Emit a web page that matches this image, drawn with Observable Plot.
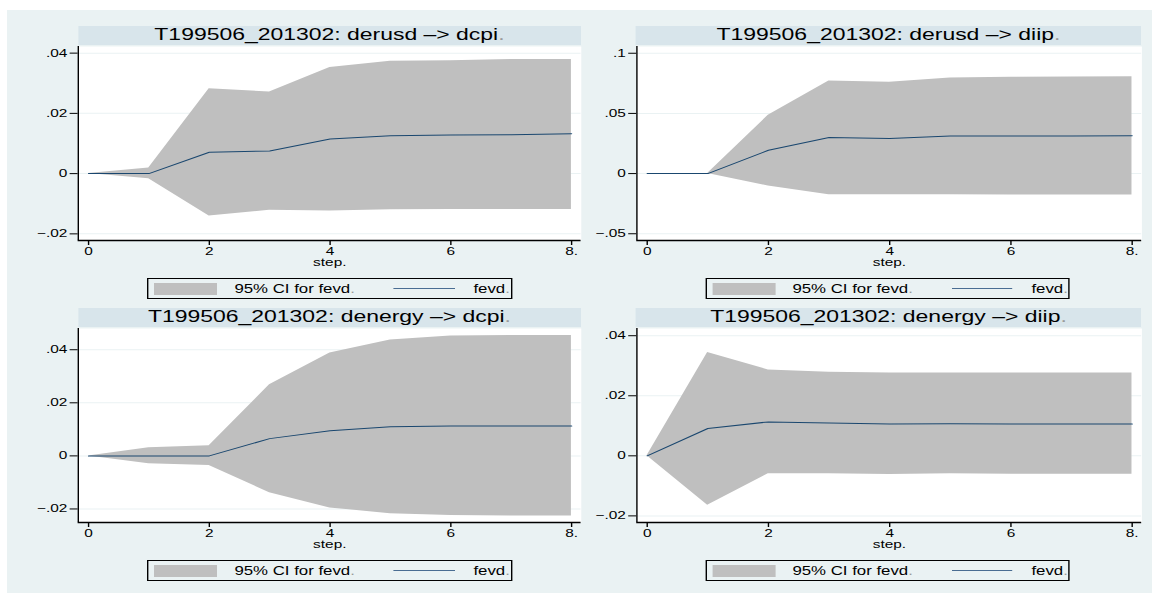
<!DOCTYPE html>
<html><head><meta charset="utf-8">
<script src="https://cdn.jsdelivr.net/npm/d3@7"></script>
<script src="https://cdn.jsdelivr.net/npm/@observablehq/plot@0.6"></script>
<style>
html,body{margin:0;padding:0;background:#fff;width:1152px;height:593px;overflow:hidden;font-family:"Liberation Sans",Arial,sans-serif;}
#stage{position:absolute;left:0;top:0;height:593px;transform-origin:0 0;}
</style></head><body><div id="stage"></div>
<script>
// ---- data ----
const steps = [0, 1, 2, 3, 4, 5, 6, 7, 8];
const xTicks = [0, 2, 4, 6, 8];
const xTickLabels = ["0", "2", "4", "6", "8."];
const titles = [
  "T199506_201302: derusd –> dcpi",
  "T199506_201302: derusd –> diip",
  "T199506_201302: denergy –> dcpi",
  "T199506_201302: denergy –> diip"
];
const legendLabels = ["95% CI for fevd", "fevd"];
const xLabel = "step.";

const fevd_derusd_dcpi = [0, 0, 0.0071, 0.0075, 0.0115, 0.0126, 0.0128, 0.0129, 0.0132];
const lo_derusd_dcpi   = [0, -0.0017, -0.0141, -0.0122, -0.0124, -0.0120, -0.0119, -0.0119, -0.0119];
const hi_derusd_dcpi   = [0, 0.0019, 0.0282, 0.0271, 0.0352, 0.0373, 0.0375, 0.0379, 0.0379];

const fevd_derusd_diip = [0, 0, 0.0194, 0.0299, 0.0291, 0.0312, 0.0312, 0.0313, 0.0315];
const lo_derusd_diip   = [0, 0, -0.0103, -0.0175, -0.0175, -0.0175, -0.0178, -0.0178, -0.0178];
const hi_derusd_diip   = [0, 0, 0.0484, 0.0769, 0.0758, 0.0794, 0.0800, 0.0803, 0.0805];

const fevd_denergy_dcpi = [0, 0, 0, 0.0065, 0.0095, 0.0110, 0.0113, 0.0113, 0.0113];
const lo_denergy_dcpi   = [0, -0.0030, -0.0036, -0.0139, -0.0196, -0.0218, -0.0225, -0.0227, -0.0227];
const hi_denergy_dcpi   = [0, 0.0031, 0.0038, 0.0268, 0.0388, 0.0437, 0.0452, 0.0454, 0.0454];

const fevd_denergy_diip = [0, 0.0091, 0.0113, 0.0109, 0.0106, 0.0107, 0.0106, 0.0106, 0.0106];
const lo_denergy_diip   = [0, -0.0165, -0.0060, -0.0060, -0.0062, -0.0060, -0.0061, -0.0061, -0.0061];
const hi_denergy_diip   = [0, 0.0344, 0.0286, 0.0278, 0.0276, 0.0276, 0.0276, 0.0276, 0.0276];

const yTicks_derusd_dcpi = [-0.02, 0, 0.02, 0.04];
const yLabels_derusd_dcpi = ["−.02", "0", ".02", ".04"];
const yTicks_derusd_diip = [-0.05, 0, 0.05, 0.1];
const yLabels_derusd_diip = ["−.05", "0", ".05", ".1"];
const yTicks_denergy_dcpi = [-0.02, 0, 0.02, 0.04];
const yLabels_denergy_dcpi = ["−.02", "0", ".02", ".04"];
const yTicks_denergy_diip = [-0.02, 0, 0.02, 0.04];
const yLabels_denergy_diip = ["−.02", "0", ".02", ".04"];

// ---- layout ----
const S = 1.4;              // horizontal stretch of the original rendering
const px = v => v / S;
const stage = document.getElementById("stage");
stage.style.width = px(1152) + "px";
stage.style.transform = `scaleX(${S})`;

const panels = [
  {title: titles[0], fevd: fevd_derusd_dcpi, lo: lo_derusd_dcpi, hi: hi_derusd_dcpi,
   yTicks: yTicks_derusd_dcpi, yLabels: yLabels_derusd_dcpi, yDomain: [-0.0222, 0.0422], L: 78, R: 581, T: 46},
  {title: titles[1], fevd: fevd_derusd_diip, lo: lo_derusd_diip, hi: hi_derusd_diip,
   yTicks: yTicks_derusd_diip, yLabels: yLabels_derusd_diip, yDomain: [-0.0556, 0.1056], L: 636, R: 1141, T: 46},
  {title: titles[2], fevd: fevd_denergy_dcpi, lo: lo_denergy_dcpi, hi: hi_denergy_dcpi,
   yTicks: yTicks_denergy_dcpi, yLabels: yLabels_denergy_dcpi, yDomain: [-0.0251, 0.0480], L: 78, R: 581, T: 328},
  {title: titles[3], fevd: fevd_denergy_diip, lo: lo_denergy_diip, hi: hi_denergy_diip,
   yTicks: yTicks_denergy_diip, yLabels: yLabels_denergy_diip, yDomain: [-0.0222, 0.0424], L: 636, R: 1141, T: 328}
];

function add(parent, css, html) {
  const e = document.createElement("div");
  e.style.cssText = "position:absolute;" + css;
  if (html != null) e.innerHTML = html;
  parent.appendChild(e);
  return e;
}
const dot = '<span style="color:#9a9a9a">.</span>';

add(stage, `left:${px(7)}px;top:10px;width:${px(1145)}px;height:583px;background:#EAF2F3;`);

const xDomain = [-0.17, 8.16];
panels.forEach(p => {
  const {L, R, T} = p;
  add(stage, `left:${px(L)}px;top:${T - 20}px;width:${px(R - L)}px;height:19px;background:#D8E5EB;text-align:center;font-size:16.4px;line-height:16px;color:#000;white-space:nowrap;`, p.title + dot);

  const data = steps.map((s, i) => ({step: s, fevd: p.fevd[i], lo: p.lo[i], hi: p.hi[i]}));
  const mL = 72, mT = 6, mB = 34, H = 194;
  const chart = Plot.plot({
    width: px(R - L + mL), height: mT + H + mB,
    marginLeft: px(mL), marginRight: 0, marginTop: mT, marginBottom: mB,
    x: {domain: xDomain, axis: null},
    y: {domain: p.yDomain, axis: null},
    style: {background: "transparent", fontFamily: "Liberation Sans, Arial, sans-serif", fontSize: "11px", color: "#000", overflow: "visible"},
    marks: [
      Plot.frame({fill: "#fff", stroke: null}),
      Plot.gridY(p.yTicks, {stroke: "#EAF2F3", strokeOpacity: 1}),
      Plot.areaY(data, {x: "step", y1: "lo", y2: "hi", fill: "#BFBFBF", fillOpacity: 1}),
      Plot.lineY(data, {x: "step", y: "fevd", stroke: "#1A476F", strokeWidth: 1}),
      Plot.ruleX([xDomain[0]], {stroke: "#000", strokeWidth: 1}),
      Plot.ruleY([p.yDomain[0]], {stroke: "#000", strokeWidth: 1.3}),
      Plot.axisY(p.yTicks, {tickFormat: d => p.yLabels[p.yTicks.indexOf(d)], tickSize: px(8), tickPadding: px(3), label: null, stroke: "#000"}),
      Plot.axisX(xTicks, {tickFormat: d => xTickLabels[xTicks.indexOf(d)], tickSize: 5, tickPadding: 2, label: null, stroke: "#000"}),
      Plot.text([xLabel], {frameAnchor: "bottom", dy: 26, text: d => d, fontSize: 11})
    ]
  });
  chart.style.position = "absolute";
  chart.style.left = px(L - mL) + "px";
  chart.style.top = (T - mT) + "px";
  stage.appendChild(chart);

  const box = add(stage, `left:${px(L + 69)}px;top:${T + 232}px;width:${px(365)}px;height:21px;box-sizing:border-box;border:1px solid #000;font-size:12px;color:#000;white-space:nowrap;`);
  add(box, `left:${px(6)}px;top:4px;width:${px(63)}px;height:12px;background:#BFBFBF;`);
  add(box, `left:${px(86)}px;top:0;line-height:20px;`, legendLabels[0] + dot);
  add(box, `left:${px(245)}px;top:9px;width:${px(61)}px;height:1px;background:#4A6D92;`);
  add(box, `left:${px(325)}px;top:0;line-height:20px;`, legendLabels[1] + dot);
});
</script>
</body></html>
